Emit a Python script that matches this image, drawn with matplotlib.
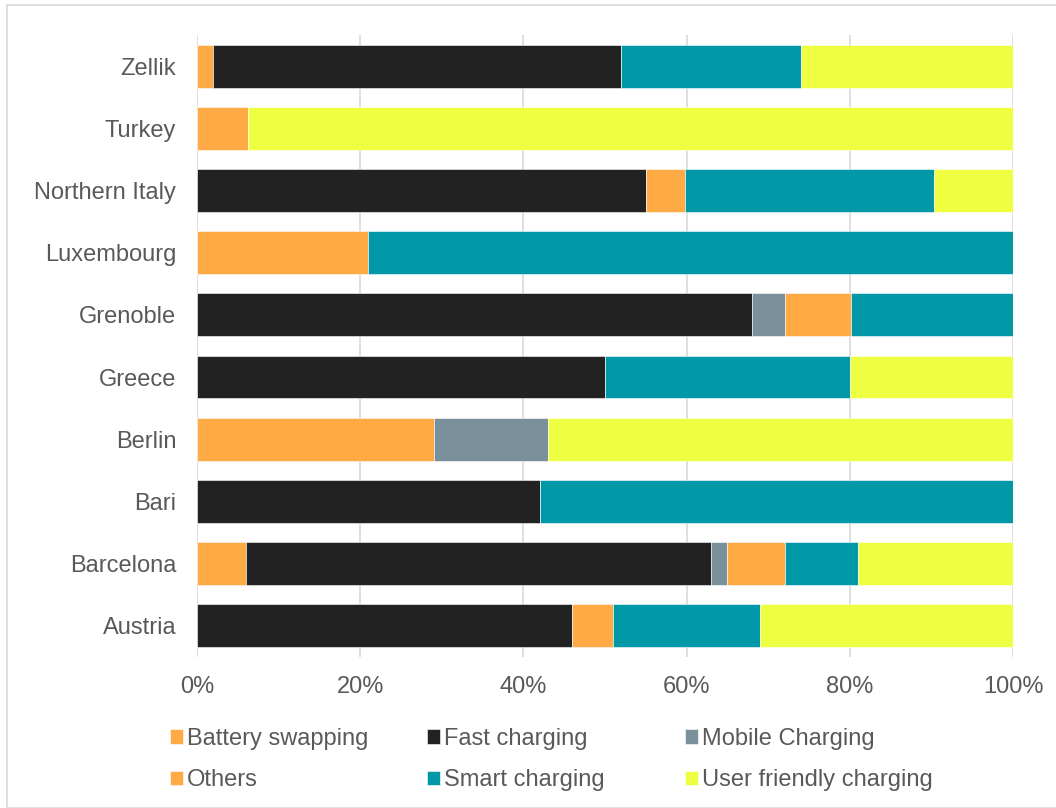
import numpy as np
import matplotlib
matplotlib.use("Agg")
import matplotlib.pyplot as plt
from matplotlib.patches import Rectangle

plt.rcParams['font.family'] = ['Liberation Sans', 'DejaVu Sans']

regions = ['Austria', 'Barcelona', 'Bari', 'Berlin', 'Greece', 'Grenoble',
           'Luxembourg', 'Northern Italy', 'Turkey', 'Zellik']

# percent shares per region (bottom to top)
battery_swapping = [0, 6, 0, 29, 0, 0, 0, 0, 6.2, 2]
fast_charging = [46, 57, 42, 0, 50, 68, 0, 55, 0, 50]
mobile_charging = [0, 2, 0, 14, 0, 4, 0, 0, 0, 0]
others = [5, 7, 0, 0, 0, 8.2, 21, 4.8, 0, 0]
smart_charging = [18, 9, 58, 0, 30, 19.8, 79, 30.5, 0, 22]
user_friendly = [31, 19, 0, 57, 20, 0, 0, 9.7, 93.8, 26]

series = [
    ('Battery swapping', battery_swapping, '#FFAA44'),
    ('Fast charging', fast_charging, '#222222'),
    ('Mobile Charging', mobile_charging, '#7A909A'),
    ('Others', others, '#FFAA44'),
    ('Smart charging', smart_charging, '#0097A7'),
    ('User friendly charging', user_friendly, '#EEFF41'),
]

fig = plt.figure(figsize=(10.56, 8.08), dpi=100)
ax = fig.add_axes([0.1866, 0.187, 0.7727, 0.7697])

y = np.arange(len(regions))
left = np.zeros(len(regions))
handles = []
for name, vals, col in series:
    vals = np.array(vals, dtype=float)
    b = ax.barh(y, vals, left=left, height=0.69, color=col, label=name,
                edgecolor='white', linewidth=0.4, zorder=3)
    handles.append(b)
    left += vals

ax.set_xlim(0, 100)
ax.set_ylim(-0.5, len(regions) - 0.5)
ax.set_yticks(y)
ax.set_yticklabels(regions)
ax.set_xticks(np.arange(0, 101, 20))
ax.set_xticklabels([f'{v}%' for v in range(0, 101, 20)])
ax.tick_params(axis='both', length=0, labelsize=17, colors='#595959')
ax.tick_params(axis='y', pad=15)
ax.tick_params(axis='x', pad=14)
ax.grid(axis='x', color='#D9D9D9', linewidth=1.2, zorder=0)
for s in ax.spines.values():
    s.set_visible(False)

# legend: three columns, two rows (row-major like the original)
col_x = [170 / 1056, 427 / 1056, 685 / 1056]
for i, x0 in enumerate(col_x):
    idx = [i, i + 3]
    leg = fig.legend([handles[k] for k in idx], [series[k][0] for k in idx],
                     loc='center left', bbox_to_anchor=(x0, 0.060),
                     frameon=False, fontsize=17, handlelength=0.55,
                     handleheight=0.55, handletextpad=0.15, labelspacing=0.82,
                     borderpad=0, borderaxespad=0, labelcolor='#595959')

fig.patches.append(Rectangle((7 / 1056, 0), 1.0, 1 - 5 / 808,
                             transform=fig.transFigure, fill=False,
                             edgecolor='#D9D9D9', linewidth=1.2))

fig.savefig('out.png', dpi=100)
